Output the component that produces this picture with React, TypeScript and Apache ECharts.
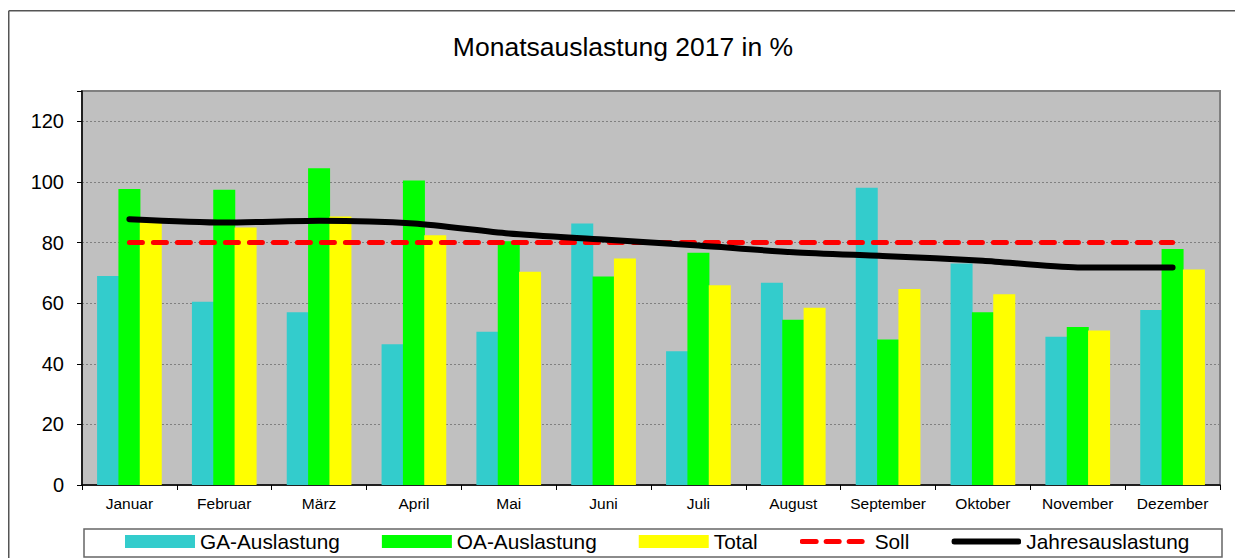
import React, { useEffect, useRef } from "react";
import * as echarts from "echarts";

const months = ["Januar", "Februar", "März", "April", "Mai", "Juni", "Juli", "August", "September", "Oktober", "November", "Dezember"];
const gaAuslastung = [69, 60.5, 57, 46.4, 50.6, 86.3, 44.1, 66.7, 98.1, 73.1, 48.9, 57.7];
const oaAuslastung = [97.7, 97.4, 104.5, 100.5, 80.4, 68.8, 76.6, 54.5, 48, 57, 52.1, 77.9];
const total = [87, 85, 88.6, 82.4, 70.4, 74.7, 65.9, 58.5, 64.7, 62.9, 51, 71.1];
const soll = [80, 80, 80, 80, 80, 80, 80, 80, 80, 80, 80, 80];
const jahresauslastung = [87.7, 86.6, 87.2, 86.3, 83.0, 81.0, 79.0, 76.8, 75.5, 74.0, 71.8, 71.8];
const titleText = "Monatsauslastung 2017 in %";

const FONT = "'Liberation Sans', Arial, sans-serif";

const sollIcon =
  "image://data:image/svg+xml;utf8," +
  encodeURIComponent(
    '<svg xmlns="http://www.w3.org/2000/svg" width="70" height="13" viewBox="0 0 70 13">' +
      '<rect x="0" y="4" width="19" height="5" rx="2.5" fill="#FF0000"/>' +
      '<rect x="24" y="4" width="18" height="5" rx="2.5" fill="#FF0000"/>' +
      '<rect x="47" y="4" width="18" height="5" rx="2.5" fill="#FF0000"/>' +
      "</svg>"
  );
const jahresIcon =
  "image://data:image/svg+xml;utf8," +
  encodeURIComponent(
    '<svg xmlns="http://www.w3.org/2000/svg" width="70" height="13" viewBox="0 0 70 13">' +
      '<rect x="0" y="3.5" width="70" height="6" rx="3" fill="#000000"/>' +
      "</svg>"
  );

export default function App() {
  const ref = useRef<HTMLDivElement>(null);
  useEffect(() => {
    if (!ref.current) return;
    document.body.style.overflow = "hidden";
    const chart = echarts.init(ref.current, null, { renderer: "svg" });
    chart.setOption({
      animation: false,
      textStyle: { fontFamily: FONT, color: "#000" },
      graphic: [
        {
          type: "line",
          shape: { x1: 0.75, y1: 2.75, x2: 1260, y2: 2.75 },
          style: { stroke: "#555", lineWidth: 1.5 },
        },
        {
          type: "line",
          shape: { x1: 0.75, y1: 2.75, x2: 0.75, y2: 580 },
          style: { stroke: "#555", lineWidth: 1.5 },
        },
        {
          type: "text",
          x: 615,
          y: 39,
          style: {
            text: titleText,
            font: `26.5px ${FONT}`,
            fill: "#000",
            textAlign: "center",
            textVerticalAlign: "middle",
          },
        },
        {
          type: "rect",
          shape: { x: 76, y: 521, width: 1138, height: 28 },
          style: { fill: "#fff", stroke: "#666", lineWidth: 1.5 },
          z: 0,
        },
      ],
      legend: {
        left: 117,
        top: 523,
        padding: [0, 0, 0, 0],
        itemWidth: 70,
        itemHeight: 13,
        itemGap: 42,
        textStyle: { fontSize: 20.8, fontFamily: FONT, color: "#000" },
        data: [
          { name: "GA-Auslastung", icon: "rect" },
          { name: "OA-Auslastung", icon: "rect" },
          { name: "Total", icon: "rect" },
          { name: "Soll", icon: sollIcon },
          { name: "Jahresauslastung", icon: jahresIcon },
        ],
        z: 5,
      },
      grid: {
        left: 74,
        top: 83,
        width: 1138,
        height: 394,
        show: true,
        backgroundColor: "#c0c0c0",
        borderColor: "#808080",
        borderWidth: 2,
      },
      xAxis: {
        type: "category",
        data: months,
        boundaryGap: true,
        axisLine: { lineStyle: { color: "#000", width: 1.5 } },
        axisTick: { show: true, length: 5, lineStyle: { color: "#000" } },
        axisLabel: { interval: 0, fontSize: 15.5, color: "#000", margin: 10, fontFamily: FONT },
      },
      yAxis: {
        type: "value",
        min: 0,
        max: 130,
        interval: 20,
        axisLine: { show: true, lineStyle: { color: "#000", width: 1.5 } },
        axisTick: { show: true, length: 5, lineStyle: { color: "#000" } },
        axisLabel: {
          fontSize: 20,
          color: "#000",
          margin: 18,
          fontFamily: FONT,
          formatter: (v: number) => (v > 120 ? "" : String(v)),
        },
        splitLine: { lineStyle: { color: "#808080", width: 1, type: [2, 2] } },
      },
      series: [
        {
          name: "GA-Auslastung",
          type: "bar",
          data: gaAuslastung,
          barWidth: 22,
          barGap: "-3%",
          itemStyle: { color: "#33CCCC" },
        },
        {
          name: "OA-Auslastung",
          type: "bar",
          data: oaAuslastung,
          barWidth: 22,
          barGap: "-3%",
          itemStyle: { color: "#00FF00" },
        },
        {
          name: "Total",
          type: "bar",
          data: total,
          barWidth: 22,
          barGap: "-3%",
          itemStyle: { color: "#FFFF00" },
        },
        {
          name: "Soll",
          type: "line",
          data: soll,
          symbol: "none",
          z: 4,
          lineStyle: { color: "#FF0000", width: 5, type: [13, 11], cap: "round" },
          itemStyle: { color: "#FF0000" },
        },
        {
          name: "Jahresauslastung",
          type: "line",
          data: jahresauslastung,
          symbol: "none",
          smooth: 0.25,
          z: 5,
          lineStyle: { color: "#000", width: 6, cap: "round", join: "round" },
          itemStyle: { color: "#000" },
        },
      ],
    });
    return () => chart.dispose();
  }, []);
  return (
    <div
      ref={ref}
      style={{ position: "absolute", left: 8, top: 8, width: 1250, height: 570 }}
    />
  );
}
